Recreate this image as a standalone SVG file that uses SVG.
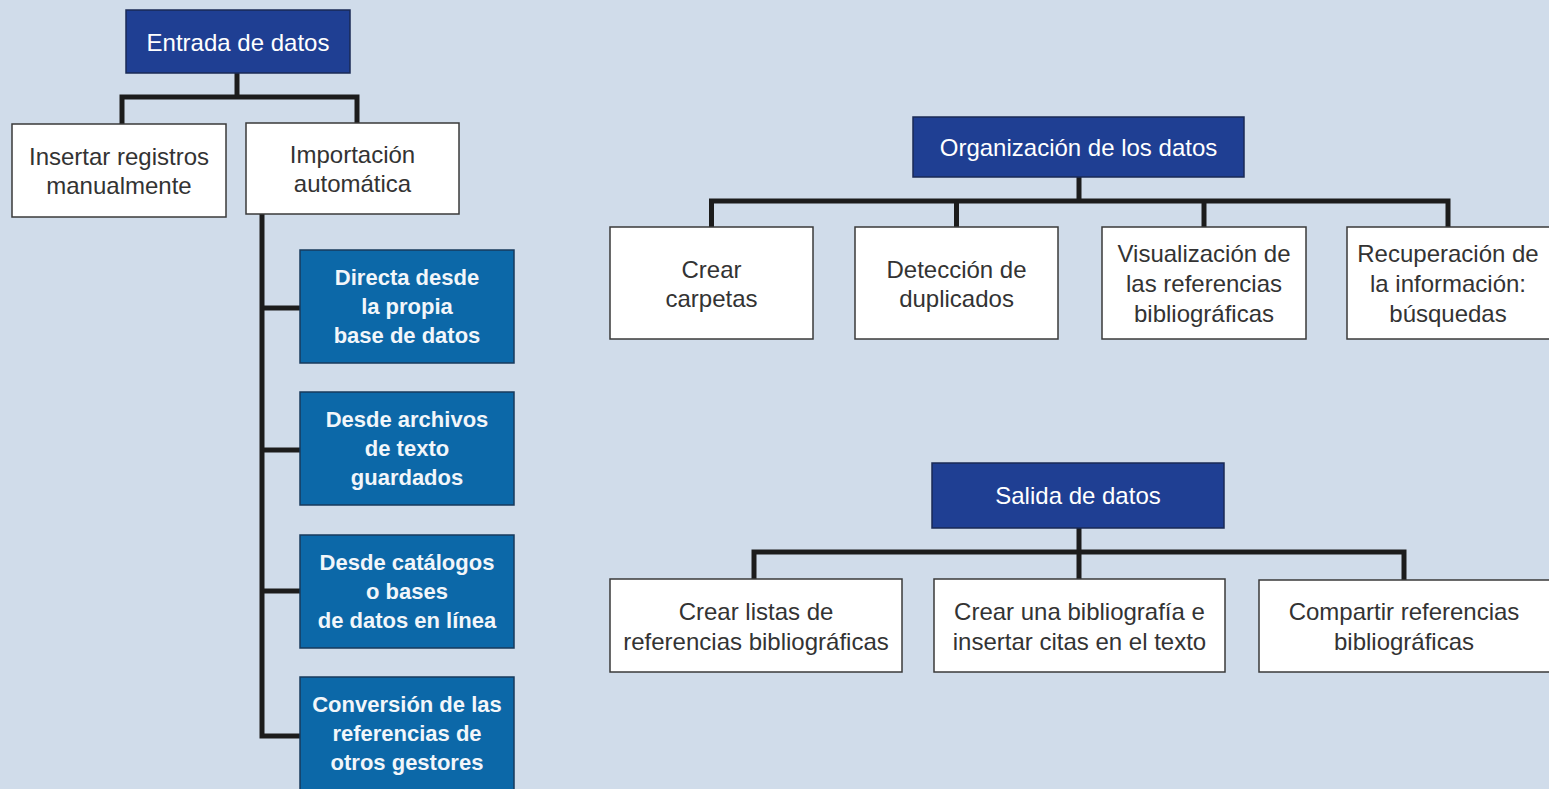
<svg xmlns="http://www.w3.org/2000/svg" width="1549" height="789" viewBox="0 0 1549 789">
<style>
.bg{fill:#d0dcea}
.hdr{fill:#1f3f93;stroke:#1a2a55;stroke-width:1.5}
.blu{fill:#0c68a8;stroke:#173a5c;stroke-width:1.5}
.wht{fill:#ffffff;stroke:#3a3a3a;stroke-width:1.5}
.ht{font-family:"Liberation Sans",Arial,sans-serif;font-size:24px;fill:#ffffff;text-anchor:middle}
.bt{font-family:"Liberation Sans",Arial,sans-serif;font-size:22px;font-weight:bold;fill:#f2f6fa;text-anchor:middle}
.wt{font-family:"Liberation Sans",Arial,sans-serif;font-size:24px;fill:#333333;text-anchor:middle}
.con{fill:none;stroke:#1c1c1c;stroke-width:5;stroke-linejoin:miter;stroke-linecap:butt}
</style>
<rect class="bg" x="0" y="0" width="1549" height="789"/>
<g id="connectors">
<path class="con" d="M237 73 V97"/>
<path class="con" d="M122 124 V97 H357 V123"/>
<path class="con" d="M262 214 V736 H300"/>
<path class="con" d="M262 308 H300"/>
<path class="con" d="M262 450 H300"/>
<path class="con" d="M262 591 H300"/>
<path class="con" d="M1079 177 V201"/>
<path class="con" d="M711.5 227 V201 H1448 V227"/>
<path class="con" d="M956.5 201 V227"/>
<path class="con" d="M1204 201 V227"/>
<path class="con" d="M1079 528 V552"/>
<path class="con" d="M754 579 V552 H1404 V580"/>
<path class="con" d="M1079 552 V579"/>
</g>
<g id="entrada">
<rect class="hdr" x="126" y="10" width="224" height="63"/>
<text class="ht" x="238" y="51">Entrada de datos</text>
</g>
<g id="insertar">
<rect class="wht" x="12" y="124" width="214" height="93"/>
<text class="wt" x="119" y="165">Insertar registros</text>
<text class="wt" x="119" y="194">manualmente</text>
</g>
<g id="importacion">
<rect class="wht" x="246" y="123" width="213" height="91"/>
<text class="wt" x="352.5" y="163">Importación</text>
<text class="wt" x="352.5" y="192">automática</text>
</g>
<g id="directa">
<rect class="blu" x="300" y="250" width="214" height="113"/>
<text class="bt" x="407" y="285">Directa desde</text>
<text class="bt" x="407" y="314">la propia</text>
<text class="bt" x="407" y="343">base de datos</text>
</g>
<g id="archivos">
<rect class="blu" x="300" y="392" width="214" height="113"/>
<text class="bt" x="407" y="427">Desde archivos</text>
<text class="bt" x="407" y="456">de texto</text>
<text class="bt" x="407" y="485">guardados</text>
</g>
<g id="catalogos">
<rect class="blu" x="300" y="535" width="214" height="113"/>
<text class="bt" x="407" y="570">Desde catálogos</text>
<text class="bt" x="407" y="599">o bases</text>
<text class="bt" x="407" y="628">de datos en línea</text>
</g>
<g id="conversion">
<rect class="blu" x="300" y="677" width="214" height="115"/>
<text class="bt" x="407" y="712">Conversión de las</text>
<text class="bt" x="407" y="741">referencias de</text>
<text class="bt" x="407" y="770">otros gestores</text>
</g>
<g id="organizacion">
<rect class="hdr" x="913" y="117" width="331" height="60"/>
<text class="ht" x="1078.5" y="156">Organización de los datos</text>
</g>
<g id="carpetas">
<rect class="wht" x="610" y="227" width="203" height="112"/>
<text class="wt" x="711.5" y="278">Crear</text>
<text class="wt" x="711.5" y="307">carpetas</text>
</g>
<g id="duplicados">
<rect class="wht" x="855" y="227" width="203" height="112"/>
<text class="wt" x="956.5" y="278">Detección de</text>
<text class="wt" x="956.5" y="307">duplicados</text>
</g>
<g id="visualizacion">
<rect class="wht" x="1102" y="227" width="204" height="112"/>
<text class="wt" x="1204" y="262">Visualización de</text>
<text class="wt" x="1204" y="292">las referencias</text>
<text class="wt" x="1204" y="322">bibliográficas</text>
</g>
<g id="recuperacion">
<rect class="wht" x="1347" y="227" width="203" height="112"/>
<text class="wt" x="1448" y="262">Recuperación de</text>
<text class="wt" x="1448" y="292">la información:</text>
<text class="wt" x="1448" y="322">búsquedas</text>
</g>
<g id="salida">
<rect class="hdr" x="932" y="463" width="292" height="65"/>
<text class="ht" x="1078" y="504">Salida de datos</text>
</g>
<g id="listas">
<rect class="wht" x="610" y="579" width="292" height="93"/>
<text class="wt" x="756" y="620">Crear listas de</text>
<text class="wt" x="756" y="650">referencias bibliográficas</text>
</g>
<g id="bibliografia">
<rect class="wht" x="934" y="579" width="291" height="93"/>
<text class="wt" x="1079.5" y="620">Crear una bibliografía e</text>
<text class="wt" x="1079.5" y="650">insertar citas en el texto</text>
</g>
<g id="compartir">
<rect class="wht" x="1259" y="580" width="292" height="92"/>
<text class="wt" x="1404" y="620">Compartir referencias</text>
<text class="wt" x="1404" y="650">bibliográficas</text>
</g>
</svg>
